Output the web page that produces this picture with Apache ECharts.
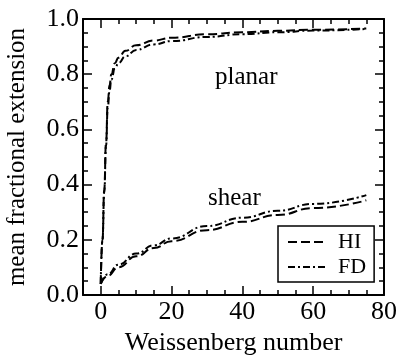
<!DOCTYPE html>
<html>
<head>
<meta charset="utf-8">
<script src="https://cdn.jsdelivr.net/npm/echarts@6/dist/echarts.min.js"></script>
<style>html,body{margin:0;padding:0;background:#fff}#c{width:397px;height:355px}</style>
</head>
<body>
<div id="c"></div>
<script>
var wiPlanar = [0, 0.5, 1, 1.5, 2, 2.5, 3, 4, 5, 7, 10, 15, 20, 30, 40, 50, 60, 75];
var planarHI = [0.04, 0.2, 0.38, 0.55, 0.70, 0.76, 0.80, 0.84, 0.86, 0.885, 0.905, 0.922, 0.932, 0.945, 0.952, 0.957, 0.961, 0.966];
var planarFD = [0.04, 0.2, 0.37, 0.54, 0.68, 0.74, 0.78, 0.82, 0.84, 0.865, 0.888, 0.908, 0.92, 0.935, 0.945, 0.952, 0.958, 0.964];
var wiShear = [0, 2, 5, 10, 15, 20, 30, 40, 50, 60, 75];
var shearHI = [0.04, 0.07, 0.10, 0.14, 0.17, 0.195, 0.235, 0.265, 0.29, 0.315, 0.343];
var shearFD = [0.04, 0.075, 0.11, 0.15, 0.18, 0.205, 0.25, 0.28, 0.305, 0.33, 0.362];
var xMajor = [0, 20, 40, 60, 80];
var xMinor = [5, 10, 15, 25, 30, 35, 45, 50, 55, 65, 70, 75];
var seriesNames = ['HI', 'FD'];

function pairs(xs, ys) { return xs.map(function (x, i) { return [x, ys[i]]; }); }

var FONT = "'Liberation Serif', 'Times New Roman', Times, serif";
var black = '#000';
var dashHI = [9, 4];
var dashFD = [7, 3, 2, 3];

function xAxisDef(pos, ticks, len, showLine, showLabel) {
  return {
    type: 'value', min: -5, max: 80, position: pos,
    axisLine: { show: showLine, onZero: false, lineStyle: { color: black, width: 2 } },
    axisTick: { show: true, inside: true, length: len, customValues: ticks, lineStyle: { color: black, width: 1.5 } },
    axisLabel: showLabel ? { customValues: xMajor, fontSize: 26, fontFamily: FONT, color: black, margin: 4 } : { show: false },
    splitLine: { show: false }
  };
}
function yAxisDef(pos, showLabel) {
  return {
    type: 'value', min: 0, max: 1, interval: 0.2, position: pos,
    axisLine: { show: true, onZero: false, lineStyle: { color: black, width: 2 } },
    axisTick: { show: true, inside: true, length: 9, lineStyle: { color: black, width: 1.5 } },
    minorTick: { show: true, splitNumber: 4, length: 5, lineStyle: { color: black, width: 1.5 } },
    axisLabel: showLabel ? { fontSize: 26, fontFamily: FONT, color: black, margin: 4, formatter: function (v) { return v.toFixed(1); } } : { show: false },
    splitLine: { show: false }
  };
}

var xb = xAxisDef('bottom', xMajor, 9, true, true);
xb.name = 'Weissenberg number';
xb.nameLocation = 'middle';
xb.nameGap = 32;
xb.nameTextStyle = { fontSize: 26, fontFamily: FONT, color: black };

var yl = yAxisDef('left', true);
yl.name = 'mean fractional extension';
yl.nameLocation = 'middle';
yl.nameGap = 53;
yl.nameTextStyle = { fontSize: 25, fontFamily: FONT, color: black };

var chart = echarts.init(document.getElementById('c'), null, { renderer: 'canvas' });
chart.setOption({
  animation: false,
  backgroundColor: '#fff',
  grid: { left: 83, right: 13, top: 19, bottom: 60, containLabel: false, outerBoundsMode: 'none' },
  xAxis: [xb, xAxisDef('bottom', xMinor, 5, false, false), xAxisDef('top', xMajor, 9, true, false), xAxisDef('top', xMinor, 5, false, false)],
  yAxis: [yl, yAxisDef('right', false)],
  legend: {
    data: seriesNames,
    orient: 'vertical',
    left: 278, top: 226,
    borderColor: black, borderWidth: 1.5,
    padding: [5, 8, 4, 9],
    itemWidth: 38, itemHeight: 12, itemGap: 3,
    itemStyle: { color: 'transparent', borderWidth: 0, opacity: 0 },
    textStyle: { fontSize: 22, lineHeight: 20, fontFamily: FONT, color: black, padding: [0, 0, 0, 7] }
  },
  graphic: [
    { type: 'text', left: 215, top: 65, style: { text: 'planar', font: "25px 'Liberation Serif', 'Times New Roman', serif", fill: black } },
    { type: 'text', left: 208, top: 186, style: { text: 'shear', font: "25px 'Liberation Serif', 'Times New Roman', serif", fill: black } }
  ],
  series: [
    { name: 'HI', type: 'line', data: pairs(wiPlanar, planarHI), symbol: 'none', smooth: true, smoothMonotone: 'x', itemStyle: { color: black }, lineStyle: { color: black, width: 2, type: dashHI } },
    { name: 'FD', type: 'line', data: pairs(wiPlanar, planarFD), symbol: 'none', smooth: true, smoothMonotone: 'x', itemStyle: { color: black }, lineStyle: { color: black, width: 2, type: dashFD } },
    { name: 'HI', type: 'line', data: pairs(wiShear, shearHI), symbol: 'none', smooth: true, smoothMonotone: 'x', itemStyle: { color: black }, lineStyle: { color: black, width: 2, type: dashHI } },
    { name: 'FD', type: 'line', data: pairs(wiShear, shearFD), symbol: 'none', smooth: true, smoothMonotone: 'x', itemStyle: { color: black }, lineStyle: { color: black, width: 2, type: dashFD } }
  ]
});
</script>
</body>
</html>
